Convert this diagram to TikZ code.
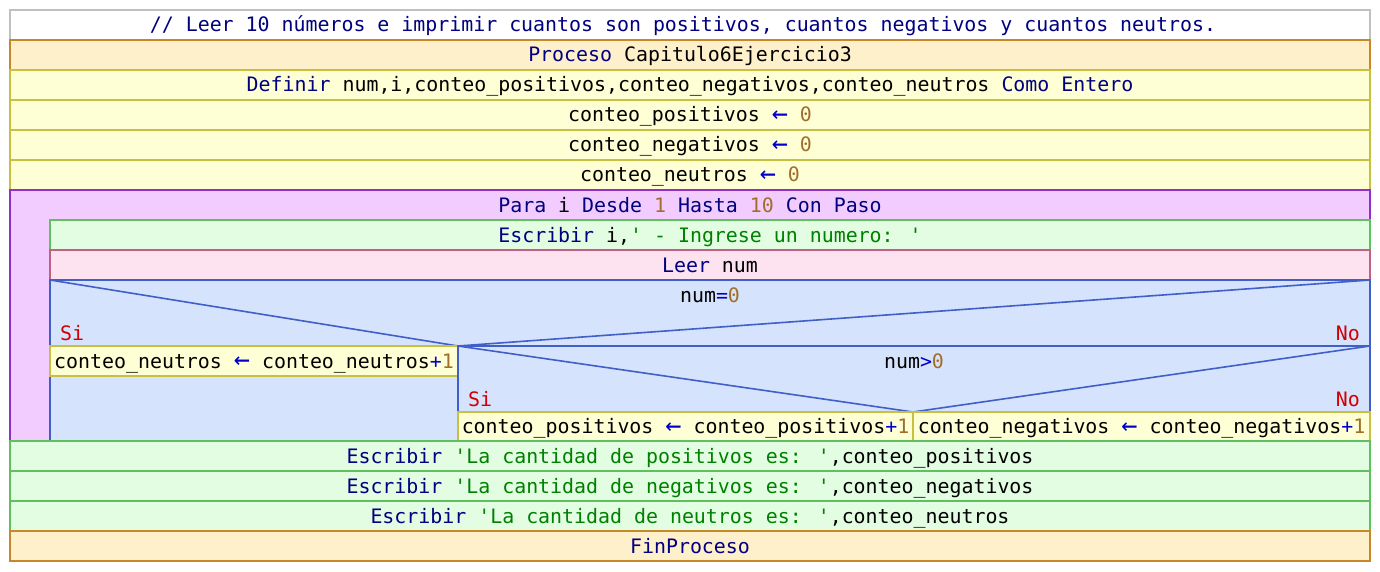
\documentclass[tikz,border=0pt]{standalone}
\usepackage{fontspec}
\newfontfamily\psfont{DejaVu Sans Mono}
\usepackage{xcolor}
\definecolor{kwcol}{RGB}{0,0,128}
\definecolor{nbcol}{RGB}{160,110,40}
\definecolor{stcol}{RGB}{0,128,0}
\definecolor{opcol}{RGB}{0,0,200}
\definecolor{sncol}{RGB}{210,0,0}
\definecolor{cmtline}{RGB}{192,192,192}
\definecolor{procfill}{RGB}{255,240,204}
\definecolor{procline}{RGB}{200,136,42}
\definecolor{asigfill}{RGB}{255,255,214}
\definecolor{asigline}{RGB}{200,192,64}
\definecolor{parafill}{RGB}{242,204,255}
\definecolor{paraline}{RGB}{144,48,200}
\definecolor{escfill}{RGB}{227,253,227}
\definecolor{escline}{RGB}{96,192,96}
\definecolor{leerfill}{RGB}{253,227,240}
\definecolor{leerline}{RGB}{192,96,136}
\definecolor{sifill}{RGB}{214,227,253}
\definecolor{siline}{RGB}{64,96,200}
\newcommand{\kw}[1]{\textcolor{kwcol}{#1}}
\newcommand{\nmb}[1]{\textcolor{nbcol}{#1}}
\newcommand{\strg}[1]{\textcolor{stcol}{#1}}
\newcommand{\opr}[1]{\textcolor{opcol}{#1}}
\newcommand{\q}{\char"0027\relax}
\newcommand{\asg}{\opr{\raisebox{-0.5pt}{\scalebox{1.35}{\char"2190}}}}

\begin{document}
\begin{tikzpicture}[x=1pt,y=-1pt,
  every node/.style={font=\psfont\fontsize{19.9pt}{24pt}\selectfont},
  row/.style={minimum width=1360pt, minimum height=30pt, inner sep=0pt,
    text height=14pt, text depth=0pt, line width=1.6pt},
  cmtrow/.style={row, fill=white, draw=cmtline},
  procrow/.style={row, fill=procfill, draw=procline},
  asigrow/.style={row, fill=asigfill, draw=asigline},
  escrow/.style={row, fill=escfill, draw=escline},
  leerrow/.style={row, fill=leerfill, draw=leerline},
  cell/.style={asigrow, minimum height=30pt},
  sino/.style={text=sncol, inner sep=0pt},
  cut/.style={draw=siline, line width=1.6pt}
]
\useasboundingbox (0,0) rectangle (1380,572);

% encabezado
\node[cmtrow] (com) at (690,25) {\kw{// Leer 10 números e imprimir cuantos son positivos, cuantos negativos y cuantos neutros.}\kern14pt};
\node[procrow] (proc) at (690,55) {\kw{Proceso} Capitulo6Ejercicio3};
\node[asigrow] (defn) at (690,85) {\kw{Definir} num,i,conteo\_positivos,conteo\_negativos,conteo\_neutros \kw{Como Entero}};
\node[asigrow] (cpos) at (690,115) {conteo\_positivos \asg{} \nmb{0}};
\node[asigrow] (cneg) at (690,145) {conteo\_negativos \asg{} \nmb{0}};
\node[asigrow] (cneu) at (690,175) {conteo\_neutros \asg{} \nmb{0}};

% ciclo Para
\draw[fill=parafill, draw=paraline, line width=1.6pt] (10,190) -- (1370,190) -- (1370,220) -- (50,220) -- (50,441) -- (10,441) -- cycle;
\node[row, minimum width=1360pt] (para) at (690,205) {\kw{Para} i \kw{Desde} \nmb{1} \kw{Hasta} \nmb{10} \kw{Con Paso}};
\node[escrow, minimum width=1320pt] (esc) at (710,235) {\kw{Escribir} i,\strg{\q{} - Ingrese un numero: \q}};
\node[leerrow, minimum width=1320pt] (leer) at (710,265) {\kw{Leer} num};

% Si num=0
\draw[fill=sifill, draw=siline, line width=1.6pt] (50,280) rectangle (1370,441);
\coordinate (t1l) at (50,280);
\coordinate (t1r) at (1370,280);
\coordinate (t1b) at (458,346);
\coordinate (t2r) at (1370,346);
\coordinate (t2b) at (913,412);
\draw[cut] (t1l) -- (t1b) -- (t1r);
\node[row, minimum width=1320pt] (cond1) at (710,295) {num\opr{=}\nmb{0}};
\node[sino, anchor=base west] (si1) at (60,340) {Si};
\node[sino, anchor=base east] (no1) at (1360,340) {No};
\node[cell, minimum width=408pt] (neu) at (254,361) {conteo\_neutros \asg{} conteo\_neutros\opr{+}\nmb{1}};

% Si num>0
\draw[cut] (t1b) rectangle (1370,412);
\draw[cut] (t1b) -- (t2b) -- (t2r);
\node[row, minimum width=912pt] (cond2) at (914,361) {num\opr{>}\nmb{0}};
\node[sino, anchor=base west] (si2) at (468,406) {Si};
\node[sino, anchor=base east] (no2) at (1360,406) {No};
\node[cell, minimum width=455pt, minimum height=29pt] (pos) at (685.5,426.5) {conteo\_positivos \asg{} conteo\_positivos\opr{+}\nmb{1}};
\node[cell, minimum width=457pt, minimum height=29pt] (neg) at (1141.5,426.5) {conteo\_negativos \asg{} conteo\_negativos\opr{+}\nmb{1}};

% salida
\node[escrow] (wpos) at (690,456) {\kw{Escribir} \strg{\q La cantidad de positivos es: \q},conteo\_positivos};
\node[escrow] (wneg) at (690,486) {\kw{Escribir} \strg{\q La cantidad de negativos es: \q},conteo\_negativos};
\node[escrow] (wneu) at (690,516) {\kw{Escribir} \strg{\q La cantidad de neutros es: \q},conteo\_neutros};
\node[procrow] (fin) at (690,546) {\kw{FinProceso}};
\end{tikzpicture}
\end{document}
